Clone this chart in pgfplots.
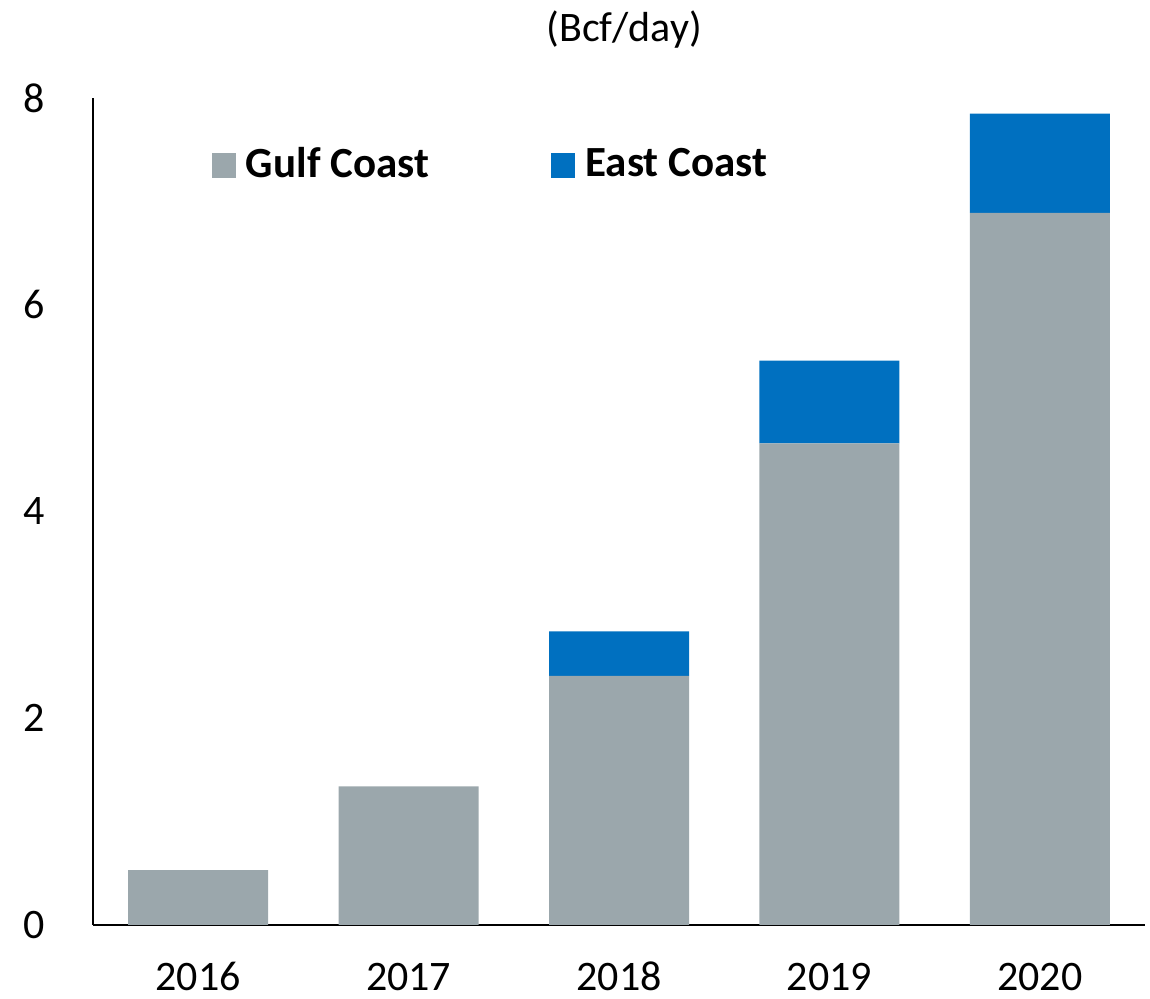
\documentclass[border=0pt]{standalone}
\usepackage{fontspec}
\setmainfont{Carlito}
\usepackage{pgfplots}
\pgfplotsset{compat=1.18}
\definecolor{gulf}{RGB}{155,167,172}
\definecolor{east}{RGB}{0,112,192}
\begin{document}
\fontsize{21}{25}\selectfont
\begin{tikzpicture}
\useasboundingbox (-46.5pt,-37pt) rectangle (528.5pt,462.5pt);
\begin{axis}[
  at={(0pt,0pt)}, anchor=south west,
  scale only axis, width=526pt, height=413.5pt,
  ybar stacked, bar width=70pt,
  xmin=-0.5, xmax=4.5, ymin=0, ymax=8,
  xtick=data, xticklabels={2016,2017,2018,2019,2020},
  ytick={0,2,4,6,8},
  axis x line*=bottom, axis y line*=left,
  axis line style={line width=0.75pt, -},
  major tick length=0pt,
  tick style={draw=none},
  tick label style={font=\fontsize{21}{25}\selectfont},
  /pgf/number format/assume math mode=true,
  yticklabel style={xshift=-17pt},
  xticklabel style={anchor=base, yshift=-33pt},
  title={(Bcf/day)},
  title style={at={(rel axis cs:0.505,1)}, anchor=center, yshift=28pt, font=\fontsize{21}{25}\selectfont},
  legend columns=2,
  legend image code/.code={\fill[#1] (0pt,-6.25pt) rectangle (12pt,6.25pt);},
  legend style={draw=none, fill=none, inner sep=0pt, outer sep=0pt,
    at={(rel axis cs:0.1131,0.9178)}, anchor=west,
    font=\bfseries\fontsize{21.5}{25}\selectfont,
    nodes={inner sep=0pt},
    /tikz/every odd column/.style={column sep=5pt},
    /tikz/every even column/.style={column sep=61.2pt}},
]
\addplot[fill=gulf, draw=none] coordinates {(0,0.53) (1,1.34) (2,2.41) (3,4.66) (4,6.89)};
\addplot[fill=east, draw=none] coordinates {(0,0) (1,0) (2,0.43) (3,0.80) (4,0.96)};
\legend{Gulf Coast, East Coast}
\end{axis}
\end{tikzpicture}
\end{document}
